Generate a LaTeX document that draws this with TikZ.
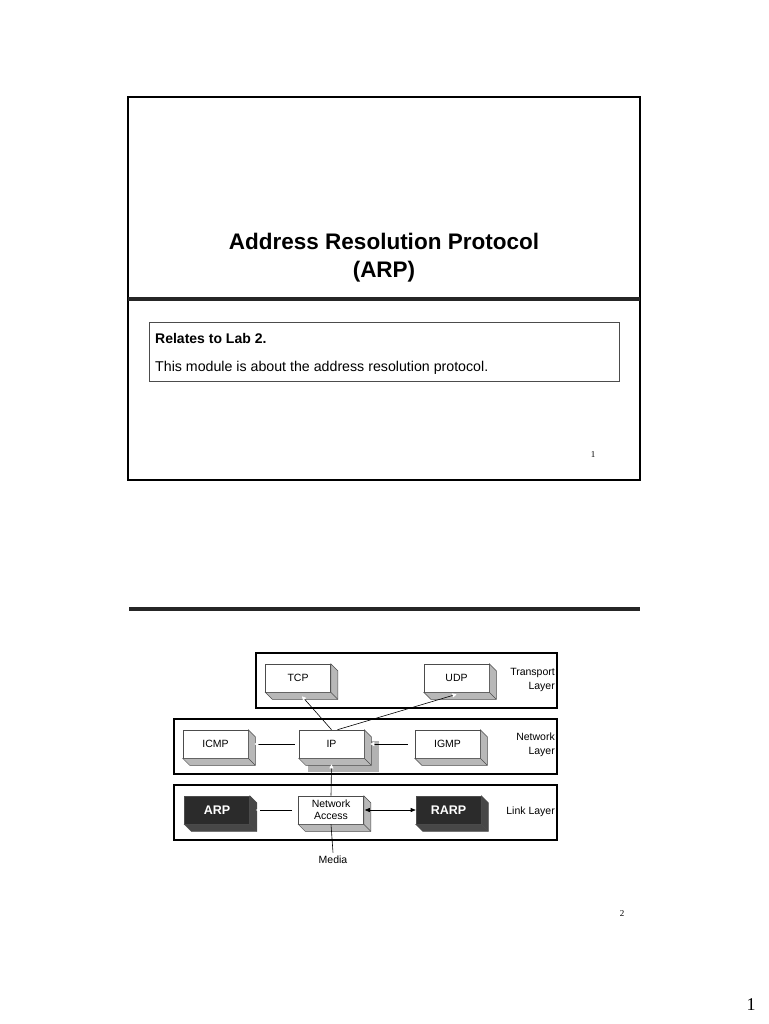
\documentclass[tikz,border=0pt]{standalone}
\usepackage{fontspec}
\setmainfont{Liberation Sans}
\newfontfamily\pnfont{Liberation Serif}
\usetikzlibrary{arrows.meta,calc,shadows}
\tikzset{blk/.style={draw=black!70, line width=0.6pt, fill=white, minimum width=65pt, minimum height=28pt, inner sep=0pt, align=center, font=\fontsize{10.5}{11}\selectfont},
  dblk/.style={blk, fill=black!83, text=white, font=\fontsize{12.5}{13}\selectfont\bfseries},
  lyr/.style={draw, line width=1.1pt, inner sep=0pt},
  lbl/.style={font=\fontsize{10.5}{14}\selectfont, align=right, anchor=east, inner sep=1pt},
  wtip/.style={-{Triangle[white, length=4pt, width=4pt]}, line width=0.6pt},
  btip/.style={{Triangle[length=5pt, width=4pt]}-{Triangle[length=5pt, width=4pt]}, line width=0.6pt}}
% side faces of a raised box
\newcommand{\boxside}[2]{%
  \filldraw[fill=#2, draw=black!70, line width=0.5pt] (#1.north east) -- ++(7,7) -- ($(#1.south east)+(7,7)$) -- ($(#1.south west)+(7,7)$) -- (#1.south west) -- (#1.south east) -- cycle;
  \draw[black!70, line width=0.5pt] (#1.south east) -- ++(7,7);}

\begin{document}
\begin{tikzpicture}[x=1pt, y=-1pt]
  \useasboundingbox (0,0) rectangle (768,1024);
  % page 1: title slide
  \draw[line width=1.4pt] (128,97) rectangle (640,480);
  \draw[line width=4.5pt, black!85] (128,299) -- (640,299);
  \node[align=center, font=\fontsize{22.5}{28}\selectfont\bfseries] (title) at (384,258) {Address Resolution Protocol\\(ARP)};
  \node[draw=black!70, line width=1.1pt, minimum width=470pt, minimum height=59pt, anchor=north west] (note) at (149,322) {};
  \node[anchor=west, inner sep=0pt, font=\fontsize{14}{16}\selectfont\bfseries] (lab) at (155,338) {Relates to Lab 2.};
  \node[anchor=west, inner sep=0pt, font=\fontsize{14.2}{16}\selectfont] (about) at (155,368) {This module is about the address resolution protocol.};
  \node[font=\pnfont\fontsize{9}{10}\selectfont] (pg1) at (593,455) {1};
  % page 2: protocol layers
  \draw[line width=4.3pt, black!85] (129,609) -- (640,609);
  \node[lyr, minimum width=301pt, minimum height=55pt] (trl) at (406.5,680.5) {};
  \node[lyr, minimum width=383pt, minimum height=55pt] (nwl) at (365.5,746.5) {};
  \node[lyr, minimum width=383pt, minimum height=55pt] (lkl) at (365.5,812.5) {};
  \node[lbl] (trtxt) at (556,680) {Transport\\Layer};
  \node[lbl] (nwtxt) at (556,745) {Network\\Layer};
  \node[lbl] (lktxt) at (556,812) {Link Layer};
  \node[blk] (tcp) at (298,678) {TCP};
  \node[blk] (udp) at (456.5,678) {UDP};
  \node[blk] (icmp) at (215.5,744) {ICMP};
  \node[blk, drop shadow={shadow xshift=11pt, shadow yshift=-11pt, shadow scale=1.1, fill=black!30, opacity=1}] (ip) at (331.5,744) {IP};
  \node[blk] (igmp) at (447.5,744) {IGMP};
  \node[dblk] (arp) at (217,810) {ARP};
  \node[blk, font=\fontsize{10.5}{12}\selectfont] (na) at (331,810) {Network\\Access};
  \node[dblk] (rarp) at (448.5,810) {RARP};
  \node[font=\fontsize{10.5}{12}\selectfont] (media) at (333,860) {Media};
  \foreach \b in {tcp,udp,icmp,ip,igmp,na} {\boxside{\b}{black!28}}
  \foreach \b in {arp,rarp} {\boxside{\b}{black!72}}
  % connectors
  \draw[wtip] (ip.north) -- ($(tcp.south)+(4,4)$);
  \draw[wtip] ($(ip.north)+(6,0)$) -- ($(udp.south)+(0,2)$);
  \draw[wtip] ($(ip.west)+(-4,0)$) -- ($(icmp.east)+(6,0)$);
  \draw[wtip] ($(igmp.west)+(-7,0)$) -- ($(ip.east)+(6,0)$);
  \draw[wtip] (na.north) -- ($(ip.south)+(0,6)$);
  \draw[wtip] ($(na.west)+(-6,0)$) -- ($(arp.east)+(6,0)$);
  \draw[btip] ($(na.east)+(1,0)$) -- (rarp.west);
  \draw[line width=0.6pt] (na.south) -- (media.north);
  \node[font=\pnfont\fontsize{9}{10}\selectfont] (pg2) at (622,914) {2};
  \node[font=\pnfont\fontsize{18}{20}\selectfont] (pg) at (751,1005) {1};
\end{tikzpicture}
\end{document}
